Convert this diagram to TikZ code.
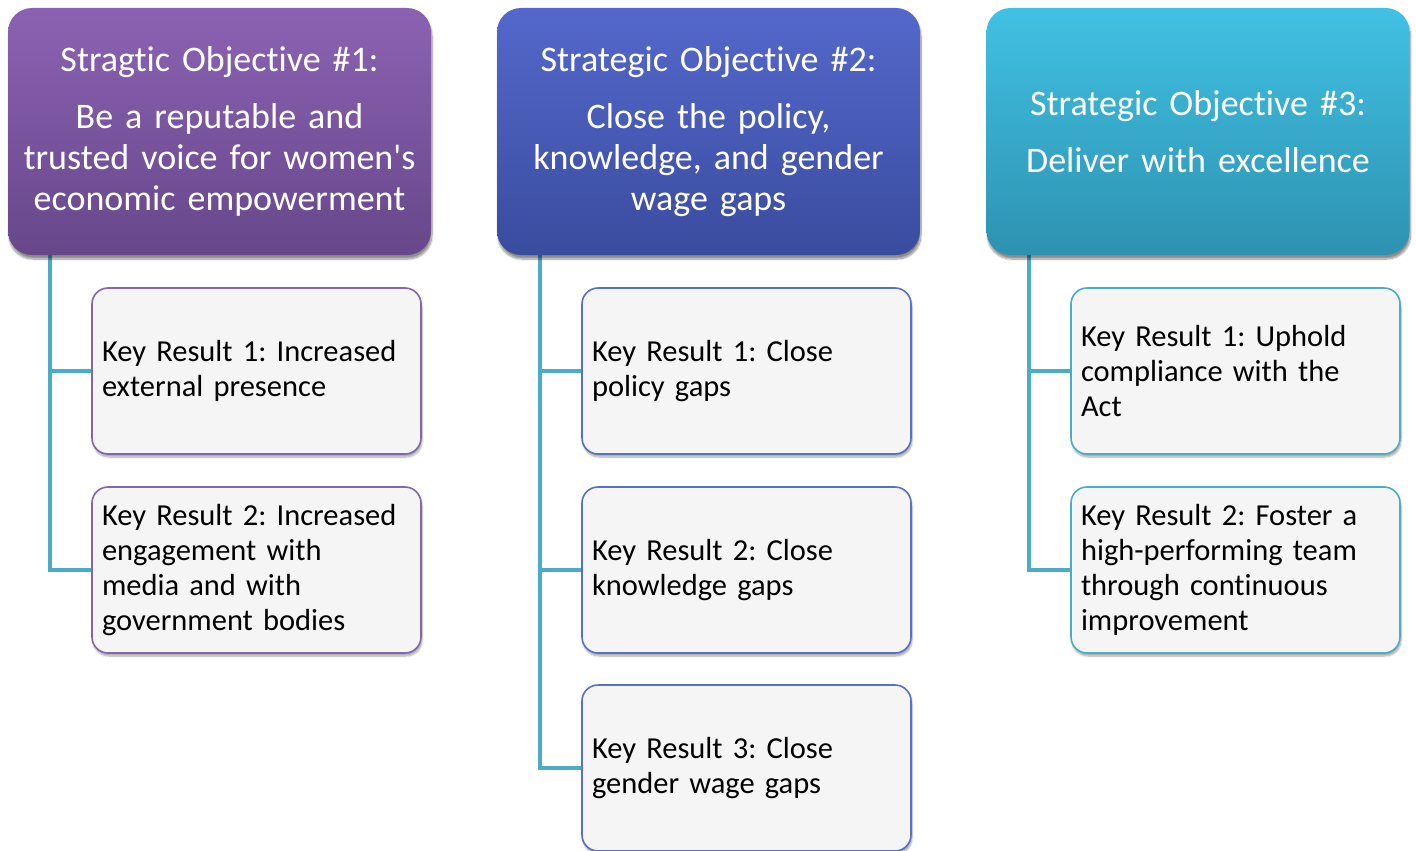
\documentclass[tikz,border=0pt]{standalone}
\usepackage{fontspec}
\setmainfont{Carlito}[Ligatures={TeXOff,NoCommon}]
\usetikzlibrary{shadows.blur}

\definecolor{purpTop}{HTML}{8B62B3}
\definecolor{purpBot}{HTML}{67478A}
\definecolor{blueTop}{HTML}{5468CC}
\definecolor{blueBot}{HTML}{3A4C9E}
\definecolor{tealTop}{HTML}{40C1E3}
\definecolor{tealBot}{HTML}{2E92B1}
\definecolor{krFill}{HTML}{F5F5F5}
\definecolor{purpEdge}{HTML}{8266AE}
\definecolor{blueEdge}{HTML}{5672C2}
\definecolor{tealEdge}{HTML}{4BACC6}
\definecolor{linkTeal}{HTML}{4BACC6}

\tikzset{
  objbox/.style={rounded corners=24pt, minimum width=423pt, minimum height=247pt,
    text width=420pt, align=center, text=white, inner sep=0pt,
    font=\fontsize{36}{41}\selectfont,
    blur shadow={shadow xshift=1pt, shadow yshift=-4pt, shadow blur steps=8, shadow opacity=45}},
  krbox/.style={rounded corners=16pt, fill=krFill, line width=1.6pt,
    minimum width=329pt, minimum height=166pt, text width=309pt, align=left,
    inner sep=0pt, text=black, font=\fontsize{30.5}{35}\selectfont,
    blur shadow={shadow xshift=1pt, shadow yshift=-3pt, shadow blur steps=6, shadow opacity=35}},
  link/.style={draw=linkTeal, line width=4pt}
}

\begin{document}
\frenchspacing
\begin{tikzpicture}[x=1pt,y=1pt]
\useasboundingbox (0,0) rectangle (1416,-851);

% key result boxes
\node[krbox, draw=purpEdge] (k11) at (256.5,-371) {Key Result 1: Increased\\external presence};
\node[krbox, draw=purpEdge] (k12) at (256.5,-570) {Key Result 2: Increased\\engagement with\\media and with\\government bodies};

\node[krbox, draw=blueEdge] (k21) at (746.5,-371) {Key Result 1: Close\\policy gaps};
\node[krbox, draw=blueEdge] (k22) at (746.5,-570) {Key Result 2: Close\\knowledge gaps};
\node[krbox, draw=blueEdge] (k23) at (746.5,-768) {Key Result 3: Close\\gender wage gaps};

\node[krbox, draw=tealEdge] (k31) at (1235.5,-371) {Key Result 1: Uphold\\compliance with the\\Act};
\node[krbox, draw=tealEdge] (k32) at (1235.5,-570) {Key Result 2: Foster a\\high-performing team\\through continuous\\improvement};

% connector trunks
\coordinate (t1) at (50,-250);
\coordinate (t2) at (540,-250);
\coordinate (t3) at (1029,-250);

\draw[link] (t1) |- (k12.west);
\draw[link] (t1) |- (k11.west);

\draw[link] (t2) |- (k23.west);
\draw[link] (t2) |- (k22.west);
\draw[link] (t2) |- (k21.west);

\draw[link] (t3) |- (k32.west);
\draw[link] (t3) |- (k31.west);

% objective headers
\node[objbox, top color=purpTop, bottom color=purpBot] (h1) at (219.5,-131.5)
  {Stragtic Objective \#1:\\[16pt]Be a reputable and\\trusted voice for women's\\economic empowerment};
\node[objbox, top color=blueTop, bottom color=blueBot] (h2) at (708.5,-131.5)
  {Strategic Objective \#2:\\[16pt]Close the policy,\\knowledge, and gender\\wage gaps};
\node[objbox, top color=tealTop, bottom color=tealBot] (h3) at (1198,-131.5)
  {Strategic Objective \#3:\\[16pt]Deliver with excellence};
\end{tikzpicture}
\end{document}
